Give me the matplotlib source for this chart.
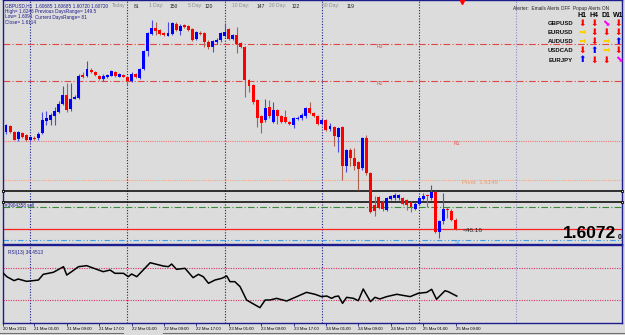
import matplotlib
matplotlib.use("Agg")
import numpy as np
import matplotlib.pyplot as plt

"""GBPUSD H1 chart with pivot levels, order lines and RSI(13) sub-window"""

# bar 0 = 20 Mar 2011 18:00, one bar per hour
opens = [1.6223, 1.6233, 1.6224, 1.6213, 1.6222, 1.6219, 1.6212, 1.6215, 1.6214, 1.6222,
         1.6241, 1.6243, 1.6248, 1.6255, 1.6268, 1.6282, 1.6259, 1.6276, 1.6277, 1.6313,
         1.6311, 1.6321, 1.6318, 1.6312, 1.6306, 1.6309, 1.6312, 1.6318, 1.6310, 1.6313,
         1.6310, 1.6304, 1.6315, 1.6308, 1.6322, 1.6350, 1.6377, 1.6387, 1.6383, 1.6378,
         1.6374, 1.6377, 1.6393, 1.6382, 1.6391, 1.6389, 1.6384, 1.6369, 1.6379, 1.6378,
         1.6365, 1.6357, 1.6364, 1.6367, 1.6374, 1.6384, 1.6369, 1.6375, 1.6363, 1.6357,
         1.6305, 1.6297, 1.6274, 1.6248, 1.6242, 1.6263, 1.6240, 1.6258, 1.6249, 1.6247,
         1.6240, 1.6235, 1.6244, 1.6245, 1.6248, 1.6261, 1.6254, 1.6249, 1.6236, 1.6242,
         1.6228, 1.6231, 1.6216, 1.6231, 1.6171, 1.6195, 1.6183, 1.6177, 1.6167, 1.6214,
         1.6159, 1.6110, 1.6122, 1.6115, 1.6102, 1.6119, 1.6120, 1.6120, 1.6120, 1.6117,
         1.6115, 1.6104, 1.6112, 1.6119, 1.6125, 1.6120, 1.6130, 1.6068, 1.6084, 1.6104,
         1.6101, 1.6087]
highs = [1.6236, 1.6235, 1.6226, 1.6226, 1.6224, 1.6220, 1.6218, 1.6217, 1.6223, 1.6255,
         1.6257, 1.6253, 1.6263, 1.6272, 1.6295, 1.6300, 1.6300, 1.6281, 1.6314, 1.6318,
         1.6334, 1.6323, 1.6319, 1.6313, 1.6314, 1.6315, 1.6321, 1.6319, 1.6316, 1.6314,
         1.6311, 1.6317, 1.6316, 1.6324, 1.6352, 1.6380, 1.6399, 1.6396, 1.6384, 1.6380,
         1.6396, 1.6396, 1.6395, 1.6393, 1.6393, 1.6391, 1.6386, 1.6382, 1.6381, 1.6380,
         1.6367, 1.6368, 1.6370, 1.6380, 1.6394, 1.6386, 1.6377, 1.6388, 1.6365, 1.6358,
         1.6306, 1.6299, 1.6276, 1.6250, 1.6276, 1.6274, 1.6270, 1.6260, 1.6251, 1.6258,
         1.6241, 1.6247, 1.6248, 1.6253, 1.6263, 1.6271, 1.6255, 1.6250, 1.6245, 1.6244,
         1.6238, 1.6233, 1.6232, 1.6233, 1.6197, 1.6198, 1.6198, 1.6179, 1.6216, 1.6219,
         1.6161, 1.6123, 1.6124, 1.6117, 1.6122, 1.6126, 1.6128, 1.6127, 1.6122, 1.6119,
         1.6116, 1.6114, 1.6122, 1.6128, 1.6127, 1.6141, 1.6132, 1.6086, 1.6128, 1.6106,
         1.6103, 1.6089]
lows = [1.6221, 1.6222, 1.6211, 1.6209, 1.6214, 1.6210, 1.6208, 1.6211, 1.6212, 1.6220,
        1.6235, 1.6235, 1.6235, 1.6253, 1.6266, 1.6255, 1.6257, 1.6275, 1.6275, 1.6308,
        1.6309, 1.6316, 1.6312, 1.6305, 1.6304, 1.6308, 1.6311, 1.6310, 1.6309, 1.6309,
        1.6297, 1.6302, 1.6308, 1.6306, 1.6320, 1.6342, 1.6375, 1.6376, 1.6375, 1.6373,
        1.6373, 1.6375, 1.6381, 1.6376, 1.6386, 1.6382, 1.6366, 1.6367, 1.6375, 1.6357,
        1.6353, 1.6349, 1.6362, 1.6365, 1.6372, 1.6367, 1.6367, 1.6347, 1.6355, 1.6279,
        1.6287, 1.6268, 1.6232, 1.6222, 1.6240, 1.6246, 1.6238, 1.6237, 1.6238, 1.6238,
        1.6234, 1.6230, 1.6242, 1.6243, 1.6246, 1.6252, 1.6247, 1.6235, 1.6234, 1.6225,
        1.6226, 1.6202, 1.6193, 1.6149, 1.6162, 1.6170, 1.6165, 1.6133, 1.6165, 1.6157,
        1.6097, 1.6092, 1.6103, 1.6100, 1.6100, 1.6117, 1.6118, 1.6118, 1.6110, 1.6102,
        1.6099, 1.6102, 1.6110, 1.6117, 1.6107, 1.6118, 1.6066, 1.6058, 1.6080, 1.6089,
        1.6084, 1.6070]
closes = [1.6234, 1.6224, 1.6212, 1.6224, 1.6216, 1.6212, 1.6216, 1.6213, 1.6221, 1.6243,
          1.6245, 1.6250, 1.6256, 1.6268, 1.6282, 1.6258, 1.6275, 1.6279, 1.6312, 1.6310,
          1.6322, 1.6318, 1.6313, 1.6306, 1.6311, 1.6313, 1.6319, 1.6311, 1.6314, 1.6310,
          1.6304, 1.6315, 1.6309, 1.6322, 1.6350, 1.6378, 1.6386, 1.6382, 1.6377, 1.6375,
          1.6379, 1.6394, 1.6383, 1.6389, 1.6388, 1.6383, 1.6368, 1.6380, 1.6377, 1.6365,
          1.6357, 1.6366, 1.6368, 1.6378, 1.6380, 1.6369, 1.6375, 1.6362, 1.6357, 1.6305,
          1.6295, 1.6271, 1.6245, 1.6238, 1.6262, 1.6248, 1.6258, 1.6248, 1.6240, 1.6240,
          1.6236, 1.6245, 1.6246, 1.6250, 1.6261, 1.6254, 1.6249, 1.6237, 1.6243, 1.6227,
          1.6233, 1.6218, 1.6230, 1.6171, 1.6195, 1.6183, 1.6170, 1.6166, 1.6214, 1.6159,
          1.6099, 1.6100, 1.6105, 1.6103, 1.6120, 1.6124, 1.6125, 1.6125, 1.6112, 1.6110,
          1.6107, 1.6112, 1.6120, 1.6123, 1.6123, 1.6130, 1.6068, 1.6084, 1.6103, 1.6102,
          1.6086, 1.6072]

# pivot levels from previous day (H 1.6246, L 1.6091, C 1.6114)
pivot = 1.6149
r1, r2, r3 = 1.6209, 1.6304, 1.6362
s1 = 1.6055
order_lines = [1.6132, 1.6114]
sl_line = 1.6107
bid = 1.6072

# RSI(13) (bar, value)
rsi_bar = [-0.7, 0.2, 2.0, 3.0, 5.1, 6.7, 8.0, 9.2, 11.7, 14.2, 15.0, 16.2, 17.9, 19.9, 22.4,
           24.0, 25.7, 26.9, 29.0, 30.2, 31.0, 32.3, 35.6, 38.8, 40.1, 40.9, 42.1, 44.2, 46.2,
           47.5, 48.7, 50.0, 51.6, 53.3, 54.5, 55.3, 56.5, 57.8, 59.4, 61.1, 62.7, 64.0, 65.2,
           66.8, 69.3, 71.8, 74.2, 76.3, 77.9, 79.2, 80.4, 81.2, 82.1, 83.1, 84.1, 85.8, 87.0,
           88.2, 90.0, 91.1, 92.3, 94.0, 96.5, 99.8, 101.8, 103.9, 105.1, 106.3, 108.4, 109.2,
           111.3]
rsi_val = [64.0, 59.4, 54.3, 56.4, 53.4, 54.3, 55.1, 62.4, 65.0, 72.2, 61.5, 65.8, 72.2, 73.5,
           68.8, 65.8, 67.9, 63.7, 63.7, 59.4, 62.8, 59.4, 77.3, 73.1, 72.2, 75.6, 68.8, 70.1,
           58.1, 62.4, 59.4, 50.9, 55.1, 57.3, 60.3, 53.0, 53.0, 46.6, 29.5, 24.4, 19.7, 29.5,
           29.5, 31.6, 28.2, 33.8, 39.3, 36.8, 33.8, 34.6, 31.6, 33.8, 34.6, 25.2, 32.9, 31.6,
           28.6, 43.6, 27.4, 32.9, 30.8, 33.8, 36.8, 33.8, 38.1, 39.3, 43.2, 30.4, 41.4, 40.1,
           34.5]

day_bars = [6, 30, 54, 78, 102, 126]
tick_bars = [7, 15, 23, 31, 39, 47, 55, 63, 71, 79, 87, 95, 103, 111]
tick_labels = ['21 Mar 01:00', '21 Mar 09:00', '21 Mar 17:00', '22 Mar 01:00', '22 Mar 09:00',
               '22 Mar 17:00', '23 Mar 01:00', '23 Mar 09:00', '23 Mar 17:00', '24 Mar 01:00',
               '24 Mar 09:00', '24 Mar 17:00', '25 Mar 01:00', '25 Mar 09:00']

pairs = ['GBPUSD', 'EURUSD', 'AUDUSD', 'USDCAD', 'EURJPY']
frames = ['H1', 'H4', 'D1', 'W1']
# d = down, u = up, r = sideways, dr = weak down
signals = [['d', 'd', 'dr', 'd'],
           ['r', 'd', 'd', 'd'],
           ['r', 'd', 'r', 'u'],
           ['d', 'u', 'r', 'd'],
           ['u', 'd', 'd', 'dr']]

W, H = 625, 335
BG = '#dcdcdc'
NAVY = '#1c1c8c'
FONT = 'Liberation Sans'

fig = plt.figure(figsize=(W / 100, H / 100), dpi=100, facecolor=BG)


def px_text(x, y, s, **kw):
    kw.setdefault('family', FONT)
    kw.setdefault('va', 'center')
    fig.text(x / W, 1 - y / H, s, **kw)


xmin, xmax = -0.74, 152.1
ax = fig.add_axes([3 / W, 1 - 243.5 / H, 619 / W, 243.5 / H], facecolor=BG)
axr = fig.add_axes([3 / W, 12 / H, 619 / W, 78 / H], facecolor=BG)

for a in (ax, axr):
    a.set_xlim(xmin, xmax)
    for sp in a.spines.values():
        sp.set_color(NAVY)
        sp.set_linewidth(1.0)
    for b in day_bars:
        col = NAVY if b < len(closes) else '#8a8ad0'
        a.axvline(b, color=col, lw=0.8, ls=(0, (1, 1.5)), zorder=1)

ax.set_ylim(1.6430 - 243.5 * 0.00015625, 1.6430)
ax.set_xticks([])
ax.set_yticks([])

# pivot / resistance lines
for lv in (r3, r2):
    ax.axhline(lv, color='#e04848', lw=0.8, ls=(0, (6, 2, 1, 2)), zorder=1)
ax.axhline(r1, color='#ee7a7a', lw=0.8, ls=(0, (1, 1)), zorder=1)
ax.axhline(pivot, color='#f2a888', lw=0.8, ls=(0, (1, 1)), zorder=1)
ax.axhline(s1, color='#3ca0f0', lw=0.8, ls=(0, (5, 2, 1, 2, 1, 2)), zorder=1)
for lv in order_lines:
    ax.plot([xmin, xmax], [lv, lv], color='black', lw=1.1, marker='s', ms=1.8,
            mfc=BG, mec='black', mew=0.6, clip_on=False, zorder=3)
ax.axhline(sl_line, color='#3a8a3a', lw=0.8, ls=(0, (6, 2, 1, 2)), zorder=1)
ax.axhline(bid, color='#ff2020', lw=0.9, zorder=1)

# candles
x = np.arange(len(closes))
o = np.array(opens)
c = np.array(closes)
hi = np.array(highs)
lo = np.array(lows)
up = c >= o
body_lo = np.minimum(o, c)
body_h = np.maximum(np.abs(c - o), 0.00008)
ax.vlines(x[up], lo[up], hi[up], color='#4a4ae0', lw=0.8, zorder=4)
ax.vlines(x[~up], lo[~up], hi[~up], color='#b0604c', lw=0.8, zorder=4)
ax.bar(x[up], body_h[up], bottom=body_lo[up], width=0.72, color='#0000ff', lw=0, zorder=5)
ax.bar(x[~up], body_h[~up], bottom=body_lo[~up], width=0.72, color='#ff0000', lw=0, zorder=5)

# level captions
ax.text(91.5, r3, 'R3', color='#e04848', fontsize=3.6, family=FONT, va='top', ha='left')
ax.text(91.5, r2, 'R2', color='#e04848', fontsize=3.6, family=FONT, va='top', ha='left')
ax.text(110.5, r1, 'R1', color='#e04848', fontsize=3.6, family=FONT, va='top', ha='left')
ax.text(112.6, pivot, 'Pivot  %.4f' % pivot, color='#f09868', fontsize=4.4, family=FONT,
        va='top', ha='left')
ax.text(110.8, s1, 'S1', color='#3ca0f0', fontsize=3.4, family=FONT, va='top', ha='left')
ax.text(-0.3, order_lines[1] - 0.0001, '#3904358 sell', color=NAVY, fontsize=3.3,
        family=FONT, va='top', ha='left')
ax.text(112.8, bid - 0.00025, '<46.16', color='#202020', fontsize=4.6, family=FONT,
        va='center', ha='left')
ax.plot([len(closes) + 0.6], [1.6427], marker='v', color='red', ms=3, clip_on=False, zorder=6)

# RSI window
axr.set_ylim(0, 100)
axr.set_yticks([])
for lv in (70, 30):
    axr.axhline(lv, color='#e03060', lw=0.8, ls=(0, (1, 1.2)), zorder=1)
axr.plot(rsi_bar, rsi_val, color='black', lw=1.1, zorder=3)
axr.text(0.008, 0.93, 'RSI(13) 34.4513', transform=axr.transAxes, color=NAVY,
         fontsize=3.4, family=FONT, va='top', ha='left')

axr.set_xticks([xmin] + tick_bars)
axr.set_xticklabels(['20 Mar 2011'] + tick_labels, fontsize=3.1, family=FONT, ha='left')
axr.tick_params(axis='x', length=2, width=0.6, color=NAVY, pad=1.2, labelcolor='black')

# header texts
px_text(5, 6, 'GBPUSD,H1  1.60685 1.60685 1.60720 1.60720', fontsize=3.4, color=NAVY)
px_text(5, 11.5, 'High= 1.6246', fontsize=3.4, color=NAVY)
px_text(35, 11.5, 'Previous DaysRange= 149.5', fontsize=3.4, color=NAVY)
px_text(5, 17, 'Low= 1.6091', fontsize=3.4, color=NAVY)
px_text(35, 17, 'Current DaysRange= 81', fontsize=3.4, color=NAVY)
px_text(5, 23, 'Close= 1.6114', fontsize=3.4, color=NAVY)

stat_names = ['Today', '1 Day:', '5 Day:', '10 Day:', '20 Day:', '60 Day:']
stat_vals = ['81', '150', '120', '147', '122', '119']
stat_x = [112, 149, 188, 232, 269, 322]
val_x = [134, 170, 205, 257, 292, 347]
for nm, v, sx, vx in zip(stat_names, stat_vals, stat_x, val_x):
    px_text(sx, 6, nm, fontsize=3.6, color='#8c8c8c')
    px_text(vx, 6, v, fontsize=3.6, color='#202020')

px_text(513, 8.5, 'Alerter:  Emails Alerts OFF  Popup Alerts ON', fontsize=3.4, color='#202020')
col_x = [582, 594, 606, 618.5]
row_y = [23.3, 32.5, 41.5, 50.5, 60]
for fx, fr in zip(col_x, frames):
    px_text(fx, 15.2, fr, fontsize=5.0, color='black', weight='bold', ha='center')
glyph = {'d': ('\u2b07', '#ff0000'), 'u': ('\u2b06', '#0000ff'),
         'r': ('\u27a1', '#ffd000'), 'dr': ('\u2b0a', '#ff00ff')}
for py, pr, sig in zip(row_y, pairs, signals):
    px_text(573, py, pr, fontsize=4.3, color='#101010', weight='bold', ha='right')
    for fx, s in zip(col_x, sig):
        g, col = glyph[s]
        px_text(fx, py, g, fontsize=6.5, color=col, ha='center', family='DejaVu Sans')

# bid price box
px_text(563, 234, '%.4f' % bid, fontsize=12.5, color='black', weight='bold', ha='left')
px_text(618, 237.5, '0', fontsize=5, color='black', weight='bold', ha='left')

# bottom tab strip
fig.add_artist(plt.Line2D([0, 123 / W], [2.5 / H, 2.5 / H], color='#707070', lw=0.8))
fig.add_artist(plt.Line2D([163 / W, 1], [2.5 / H, 2.5 / H], color='#707070', lw=0.8))

fig.savefig('out.png', dpi=100, facecolor=BG)
